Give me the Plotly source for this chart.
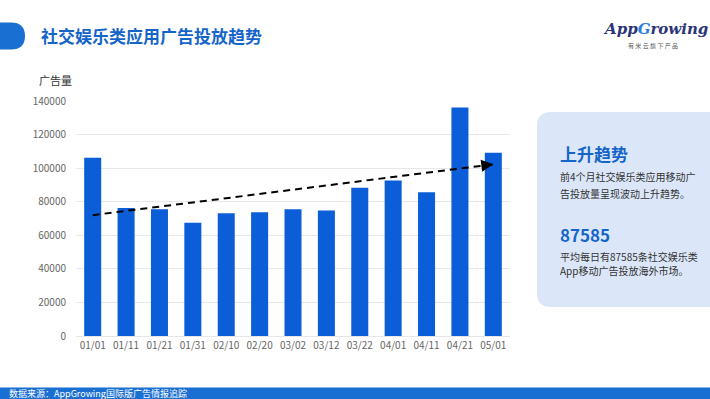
import plotly.graph_objects as go

# ---- data ----
categories = ["01/01", "01/11", "01/21", "01/31", "02/10", "02/20", "03/02",
              "03/12", "03/22", "04/01", "04/11", "04/21", "05/01"]
ad_volume = [106200, 76200, 75500, 67500, 73100, 73700, 75500,
             74700, 88300, 92700, 85700, 136100, 109100]
y_ticks = [0, 20000, 40000, 60000, 80000, 100000, 120000, 140000]
trend_start = (0, 72000)
trend_end = (12, 102300)

W, H = 710, 399
L, R, T, B = 76, 200, 101, 63
PW, PH = W - L - R, H - T - B


def px(x):
    return (x - L) / PW


def py(y):
    return (H - B - y) / PH


BLUE = "#0b5ed7"
TITLE_BLUE = "#1565c9"
FONT = "Noto Sans CJK SC"

fig = go.Figure()
fig.add_trace(go.Bar(x=categories, y=ad_volume, marker_color=BLUE,
                     marker_line_width=0, hoverinfo="x+y"))
# dashed trend line
fig.add_trace(go.Scatter(x=[categories[trend_start[0]], categories[trend_end[0]]],
                         y=[trend_start[1], trend_end[1]],
                         mode="lines", line=dict(color="black", width=2, dash="7px,5px"),
                         hoverinfo="skip", cliponaxis=False))

fig.update_layout(
    width=W, height=H,
    margin=dict(l=L, r=R, t=T, b=B),
    paper_bgcolor="white", plot_bgcolor="white",
    bargap=0.49, showlegend=False,
    font=dict(family=FONT, color="#666666", size=10),
    xaxis=dict(type="category", range=[-0.5, 12.5], showgrid=False,
               showline=True, linecolor="#e6e6e6", linewidth=1, ticks="",
               tickfont=dict(size=10, color="#666666"), fixedrange=True),
    yaxis=dict(range=[0, 140000], tickvals=y_ticks,
               ticktext=[str(v) for v in y_ticks], showgrid=True,
               gridcolor="#e8e8e8", gridwidth=1, zeroline=False,
               showline=False, ticks="", ticklabelstandoff=9,
               tickfont=dict(size=10, color="#666666"), fixedrange=True),
)

shapes = []
# title pill
x0, x1, y0, y1 = px(-10), px(25), py(22.5), py(49.5)
rx = (px(25) - px(11)); ry = (py(22.5) - py(36))
shapes.append(dict(type="path", xref="paper", yref="paper",
                   path=f"M {x0},{y0} L {x1-rx},{y0} Q {x1},{y0} {x1},{y0-ry} "
                        f"Q {x1},{y1} {x1-rx},{y1} L {x0},{y1} Z",
                   fillcolor="#1a6fd2", line=dict(width=0), layer="below"))
# right info panel (rounded)
bx0, bx1, by0, by1 = px(537), px(720), py(112), py(307)
rpx = px(537 + 14) - px(537); rpy = py(112) - py(112 + 14)
shapes.append(dict(type="path", xref="paper", yref="paper",
                   path=f"M {bx0+rpx},{by0} L {bx1},{by0} L {bx1},{by1} "
                        f"L {bx0+rpx},{by1} Q {bx0},{by1} {bx0},{by1+rpy} "
                        f"L {bx0},{by0-rpy} Q {bx0},{by0} {bx0+rpx},{by0} Z",
                   fillcolor="#dbe7f8", line=dict(width=0), layer="below"))
# bottom band
shapes.append(dict(type="rect", xref="paper", yref="paper",
                   x0=px(0), x1=px(W), y0=py(387.5), y1=py(H),
                   fillcolor="#1a6fd2", line=dict(width=0), layer="below"))
fig.update_layout(shapes=shapes)

ann = []


def text(x, y, s, size, color, bold=False, xanchor="left", family=FONT):
    ann.append(dict(x=px(x), y=py(y), xref="paper", yref="paper",
                    text=(f"<b>{s}</b>" if bold else s),
                    showarrow=False, xanchor=xanchor, yanchor="middle",
                    font=dict(size=size, color=color, family=family)))


text(39, 35, "社交娱乐类应用广告投放趋势", 17, TITLE_BLUE, bold=True)
text(37, 80, "广告量", 11, "#333333")
# logo
text(655, 29, "<i>App<span style='color:#2f7fe0'>G</span>rowing</i>", 15, "#2b3577",
     bold=True, xanchor="center", family="DejaVu Serif")
text(653, 45, "有 米 云 旗 下 产 品", 6, "#555555", xanchor="center")
# panel texts
text(558, 153, "上升趋势", 17, TITLE_BLUE, bold=True)
text(558, 176, "前4个月社交娱乐类应用移动广", 10, "#333333")
text(558, 193, "告投放量呈现波动上升趋势。", 10, "#333333")
text(558, 235, "87585", 17, TITLE_BLUE, bold=True)
text(558, 256, "平均每日有87585条社交娱乐类", 10, "#333333")
text(558, 270, "App移动广告投放海外市场。", 10, "#333333")
# footer
text(7, 393, "数据来源：AppGrowing国际版广告情报追踪", 9, "white")

# arrow head at the end of the trend line
ann.append(dict(x=categories[trend_end[0]], y=trend_end[1], ax=-12, ay=1.5,
                xref="x", yref="y", axref="pixel", ayref="pixel", text="",
                showarrow=True, arrowhead=2, arrowsize=1.2, arrowwidth=2,
                arrowcolor="black", standoff=0))
fig.update_layout(annotations=ann)

fig.write_html("out.html", config={"displayModeBar": False},
               post_script="document.body.style.margin='0';")
